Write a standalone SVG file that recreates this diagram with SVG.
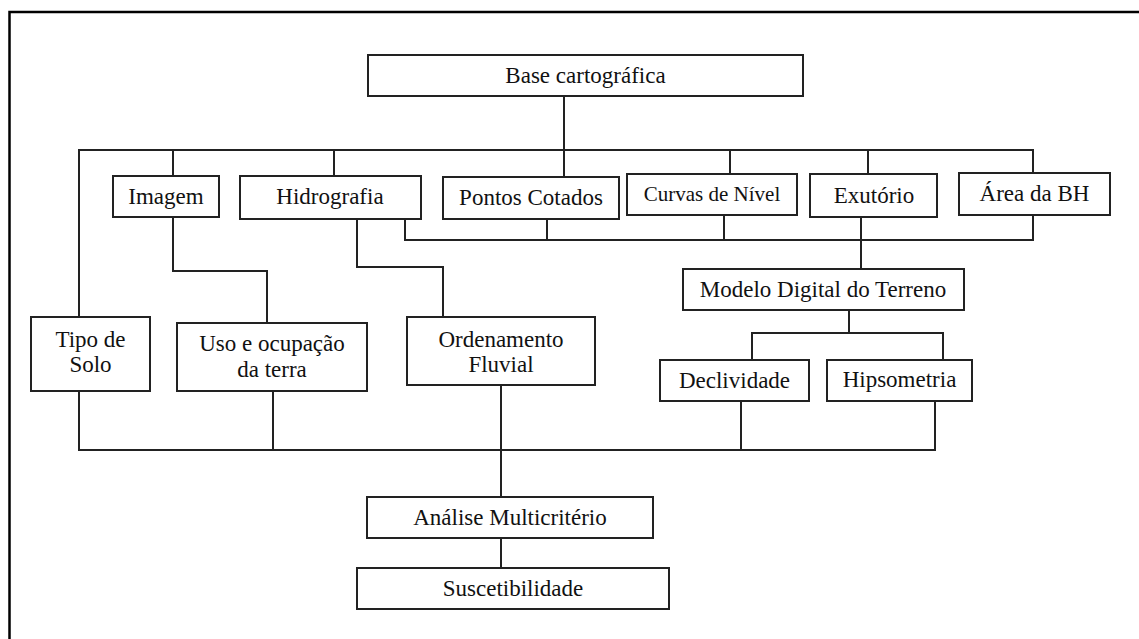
<svg xmlns="http://www.w3.org/2000/svg" width="1139" height="639" viewBox="0 0 1139 639">
<style>
.b{fill:#fff;stroke:#222;stroke-width:2}
.t{font-family:'Liberation Serif','DejaVu Serif',serif;font-size:23px;fill:#111;text-anchor:middle}
.c{fill:none;stroke:#222;stroke-width:2}
</style>
<rect width="1139" height="639" fill="#fff"/>
<path d="M9.5,639 V12 H1139" fill="none" stroke="#000" stroke-width="2.5"/>
<g id="connectors" class="c">
<path d="M564,96 V150"/>
<path d="M79,317 V150 H1033 V173"/>
<path d="M173,150 V176"/>
<path d="M334,150 V176"/>
<path d="M564,150 V177"/>
<path d="M730,150 V174"/>
<path d="M868,150 V174"/>
<path d="M405,217 V240 H1033 V215"/>
<path d="M547,219 V240"/>
<path d="M724,215 V240"/>
<path d="M861,217 V269"/>
<path d="M173,217 V271 H267 V323"/>
<path d="M357,219 V267 H443 V317"/>
<path d="M849,310 V333"/>
<path d="M752,360 V333 H943 V360"/>
<path d="M79,391 V450 H935 V401"/>
<path d="M273,391 V450"/>
<path d="M741,401 V450"/>
<path d="M501,385 V497"/>
<path d="M501,538 V568"/>
</g>
<g id="base"><rect class="b" x="368" y="55" width="435" height="41"/><text class="t" font-family="Liberation Serif" x="585.5" y="83">Base cartográfica</text></g>
<g id="imagem"><rect class="b" x="113" y="176" width="106" height="41"/><text class="t" x="166" y="204">Imagem</text></g>
<g id="hidrografia"><rect class="b" x="240" y="176" width="181" height="43"/><text class="t" x="330" y="204">Hidrografia</text></g>
<g id="pontos"><rect class="b" x="443" y="177" width="176" height="42"/><text class="t" x="531" y="205">Pontos Cotados</text></g>
<g id="curvas"><rect class="b" x="627" y="174" width="170" height="41"/><text class="t" x="712" y="201" style="font-size:21px">Curvas de Nível</text></g>
<g id="exutorio"><rect class="b" x="810" y="174" width="127" height="43"/><text class="t" x="874" y="203">Exutório</text></g>
<g id="area"><rect class="b" x="959" y="173" width="151" height="42"/><text class="t" x="1034.5" y="201">Área da BH</text></g>
<g id="mdt"><rect class="b" x="683" y="269" width="281" height="41"/><text class="t" x="823" y="297">Modelo Digital do Terreno</text></g>
<g id="solo"><rect class="b" x="31" y="317" width="119" height="74"/><text class="t" x="90.5" y="347">Tipo de</text><text class="t" x="90.5" y="372">Solo</text></g>
<g id="uso"><rect class="b" x="177" y="323" width="190" height="68"/><text class="t" x="272" y="351">Uso e ocupação</text><text class="t" x="272" y="377">da terra</text></g>
<g id="ordenamento"><rect class="b" x="407" y="317" width="188" height="68"/><text class="t" x="501" y="347">Ordenamento</text><text class="t" x="501" y="372">Fluvial</text></g>
<g id="declividade"><rect class="b" x="660" y="360" width="149" height="41"/><text class="t" x="734.5" y="388">Declividade</text></g>
<g id="hipsometria"><rect class="b" x="827" y="360" width="145" height="41"/><text class="t" x="899.5" y="387">Hipsometria</text></g>
<g id="analise"><rect class="b" x="367" y="497" width="286" height="41"/><text class="t" x="510" y="525">Análise Multicritério</text></g>
<g id="suscetibilidade"><rect class="b" x="357" y="568" width="312" height="41"/><text class="t" x="513" y="596">Suscetibilidade</text></g>
</svg>
